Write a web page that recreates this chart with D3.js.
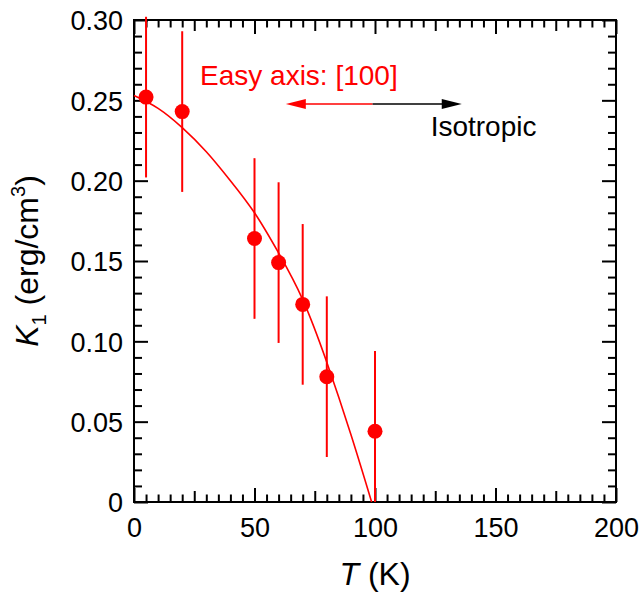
<!DOCTYPE html>
<html>
<head>
<meta charset="utf-8">
<script src="https://cdn.jsdelivr.net/npm/d3@7"></script>
<style>
  body { margin: 0; background: #fff; }
  svg text { font-family: "Liberation Sans", Arial, Helvetica, sans-serif; }
</style>
</head>
<body>
<script>
// measured points
var temps = [5, 20, 50, 60, 70, 80, 100];
var k1 = [0.252, 0.243, 0.164, 0.149, 0.123, 0.078, 0.044];
var k1Err = [0.05, 0.05, 0.05, 0.05, 0.05, 0.05, 0.05];

// fit line
var fitT = [0, 10, 20, 30, 40, 50, 60, 70, 80, 90, 98.6];
var fitK = [0.253, 0.245, 0.233, 0.218, 0.200, 0.180, 0.155, 0.126, 0.087, 0.042, 0];

var xMajor = [0, 50, 100, 150, 200];
var yMajor = [0, 0.05, 0.10, 0.15, 0.20, 0.25, 0.30];

var width = 642, height = 593;
var margin = {top: 20, right: 26, bottom: 91, left: 134};
var w = width - margin.left - margin.right;
var h = height - margin.top - margin.bottom;

var svg = d3.select("body").append("svg")
	.attr("width", width)
	.attr("height", height);

var g = svg.append("g")
	.attr("transform", "translate(" + margin.left + "," + margin.top + ")");

var x = d3.scaleLinear().domain([0, 200]).range([0, w]);
var y = d3.scaleLinear().domain([0, 0.30]).range([h, 0]);

var xMinor = d3.range(0, 201, 5).filter(function(d) { return d % 25 != 0; });
var xMid = d3.range(25, 200, 50);
var yMinor = d3.range(0, 31, 1).filter(function(d) { return d % 5 != 0; }).map(function(d) { return d / 100; });

function tickAxis(axis, vals, size) {
	return axis.tickValues(vals).tickSize(-size).tickSizeOuter(0).tickFormat("");
}

function styleAxis(sel) {
	sel.select(".domain").remove();
	sel.selectAll("line").attr("stroke", "#000").attr("stroke-width", 2);
}

// inward ticks on all four sides
[[xMinor, 7.5], [xMid, 11], [xMajor, 14]].forEach(function(t) {
	g.append("g").attr("transform", "translate(0," + h + ")")
		.call(tickAxis(d3.axisBottom(x), t[0], t[1])).call(styleAxis);
	g.append("g")
		.call(tickAxis(d3.axisTop(x), t[0], t[1])).call(styleAxis);
});
[[yMinor, 8], [yMajor, 14]].forEach(function(t) {
	g.append("g")
		.call(tickAxis(d3.axisLeft(y), t[0], t[1])).call(styleAxis);
	g.append("g").attr("transform", "translate(" + w + ",0)")
		.call(tickAxis(d3.axisRight(y), t[0], t[1])).call(styleAxis);
});

// tick labels
var xLab = g.append("g").attr("transform", "translate(0," + h + ")")
	.call(d3.axisBottom(x).tickValues(xMajor).tickSize(0).tickPadding(0).tickFormat(d3.format("d")));
xLab.select(".domain").remove();
xLab.selectAll("text").attr("font-size", 27).attr("fill", "#000").attr("dy", 35)
	.attr("font-family", "Liberation Sans, Arial, sans-serif");

var yLab = g.append("g")
	.call(d3.axisLeft(y).tickValues(yMajor).tickSize(0).tickPadding(11)
		.tickFormat(function(d) { return d == 0 ? "0" : d3.format(".2f")(d); }));
yLab.select(".domain").remove();
yLab.selectAll("text").attr("font-size", 27).attr("fill", "#000").attr("dy", "0.36em")
	.attr("font-family", "Liberation Sans, Arial, sans-serif");

// frame
g.append("rect")
	.attr("width", w).attr("height", h)
	.attr("fill", "none").attr("stroke", "#000").attr("stroke-width", 2);

// fit curve
var fitData = fitT.map(function(t, i) { return [t, fitK[i]]; });
g.append("path")
	.datum(fitData)
	.attr("d", d3.line()
		.x(function(d) { return x(d[0]); })
		.y(function(d) { return y(d[1]); })
		.curve(d3.curveNatural))
	.attr("fill", "none")
	.attr("stroke", "red")
	.attr("stroke-width", 1.6);

var pts = temps.map(function(t, i) { return {t: t, k: k1[i], e: k1Err[i]}; });

// error bars
g.selectAll(".err")
	.data(pts)
	.enter()
	.append("line")
	.attr("class", "err")
	.attr("x1", function(d) { return x(d.t); })
	.attr("x2", function(d) { return x(d.t); })
	.attr("y1", function(d) { return y(d.k + d.e); })
	.attr("y2", function(d) { return y(Math.max(0, d.k - d.e)); })
	.attr("stroke", "red")
	.attr("stroke-width", 2);

g.selectAll(".pt")
	.data(pts)
	.enter()
	.append("circle")
	.attr("class", "pt")
	.attr("cx", function(d) { return x(d.t); })
	.attr("cy", function(d) { return y(d.k); })
	.attr("r", 7.5)
	.attr("fill", "red");

// annotation arrow
var arrowY = 0.2477, arrowL = 63, arrowR = 136, arrowSplit = 99;
g.append("line")
	.attr("x1", x(arrowL) + 10).attr("x2", x(arrowSplit))
	.attr("y1", y(arrowY)).attr("y2", y(arrowY))
	.attr("stroke", "red").attr("stroke-width", 1.6);
g.append("line")
	.attr("x1", x(arrowSplit)).attr("x2", x(arrowR) - 10)
	.attr("y1", y(arrowY)).attr("y2", y(arrowY))
	.attr("stroke", "#000").attr("stroke-width", 1.6);
g.append("path")
	.attr("d", "M" + x(arrowL) + "," + y(arrowY) + "l20,-5l0,10z")
	.attr("fill", "red");
g.append("path")
	.attr("d", "M" + x(arrowR) + "," + y(arrowY) + "l-20,-5l0,10z")
	.attr("fill", "#000");

g.append("text")
	.attr("x", x(27.4)).attr("y", y(0.2595))
	.attr("font-size", 28).attr("fill", "red")
	.text("Easy axis: [100]");
g.append("text")
	.attr("x", x(123.1)).attr("y", y(0.2278))
	.attr("font-size", 28).attr("fill", "#000")
	.text("Isotropic");

// axis titles
var xt = svg.append("text")
	.attr("x", margin.left + w / 2).attr("y", 585)
	.attr("text-anchor", "middle")
	.attr("font-size", 32);
xt.append("tspan").attr("font-style", "italic").text("T");
xt.append("tspan").text(" (K)");

var yt = svg.append("text")
	.attr("transform", "translate(38," + (margin.top + h / 2) + ") rotate(-90)")
	.attr("text-anchor", "middle")
	.attr("font-size", 32);
yt.append("tspan").attr("font-style", "italic").text("K");
yt.append("tspan").attr("font-size", 20).attr("dy", 8).text("1");
yt.append("tspan").attr("dy", -8).text(" (erg/cm");
yt.append("tspan").attr("font-size", 20).attr("dy", -13).text("3");
yt.append("tspan").attr("dy", 13).text(")");
</script>
</body>
</html>
